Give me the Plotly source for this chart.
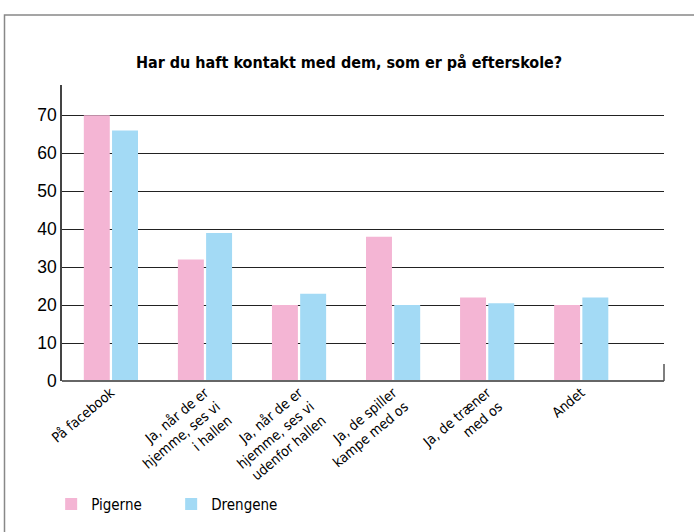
import plotly.graph_objects as go

categories = [
    "På facebook",
    "Ja, når de er<br>hjemme, ses vi<br>i hallen",
    "Ja, når de er<br>hjemme, ses vi<br>udenfor hallen",
    "Ja, de spiller<br>kampe med os",
    "Ja, de træner<br>med os",
    "Andet",
]
pigerne = [70, 32, 20, 38, 22, 20]
drengene = [66, 39, 23, 20, 20.5, 22]
yticks = [0, 10, 20, 30, 40, 50, 60, 70]

PINK = "#F4B5D4"
BLUE = "#A3DAF5"
COND = "DejaVu Sans Condensed, Liberation Sans, sans-serif"

fig = go.Figure()
fig.add_trace(go.Bar(name="Pigerne", x=categories, y=pigerne, marker_color=PINK,
                     marker_line_width=0))
fig.add_trace(go.Bar(name="Drengene", x=categories, y=drengene, marker_color=BLUE,
                     marker_line_width=0))

fig.update_layout(
    width=694, height=532,
    margin=dict(l=62, r=30, t=85, b=149),
    paper_bgcolor="white", plot_bgcolor="white",
    barmode="group", bargap=0.40, bargroupgap=0.08,
    title=dict(text="<b>Har du haft kontakt med dem, som er på efterskole?</b>",
               x=0.503, xanchor="center", y=0.882, yanchor="middle",
               font=dict(family=COND, size=16, color="black")),
    showlegend=True,
    legend=dict(orientation="h", x=-0.018, xanchor="left", y=-0.416, yanchor="middle",
                font=dict(family=COND, size=15, color="black"),
                entrywidth=75, entrywidthmode="pixels", itemsizing="constant",
                traceorder="normal"),
    xaxis=dict(type="category", range=[-0.52, 5.88], tickangle=-40,
               tickfont=dict(family=COND, size=14, color="black"),
               showgrid=False, showline=False, ticks="", zeroline=False),
    yaxis=dict(range=[0, 78], tickvals=yticks, showgrid=True, gridcolor="#222",
               gridwidth=1.2, showline=True, linecolor="#444", linewidth=1.5,
               ticks="", zeroline=False,
               tickfont=dict(family="Liberation Sans, Arial, sans-serif", size=17.5, color="black")),
)

fig.add_shape(type="line", xref="paper", yref="paper", x0=0, x1=1, y0=0, y1=0,
              line=dict(color="#666", width=2), layer="above")
fig.add_shape(type="line", xref="paper", yref="y", x0=1, x1=1, y0=0, y1=4.5,
              line=dict(color="#555", width=1.5), layer="above")
fig.add_shape(type="rect", xref="paper", yref="paper",
              x0=-57.5 / 602, x1=1 + 40 / 602, y0=-0.6, y1=1 + 70.5 / 298,
              line=dict(color="#888", width=1.5), fillcolor="rgba(0,0,0,0)", layer="above")

fig.write_html("out.html", config={"displayModeBar": False},
               post_script="document.body.style.margin='0';")
